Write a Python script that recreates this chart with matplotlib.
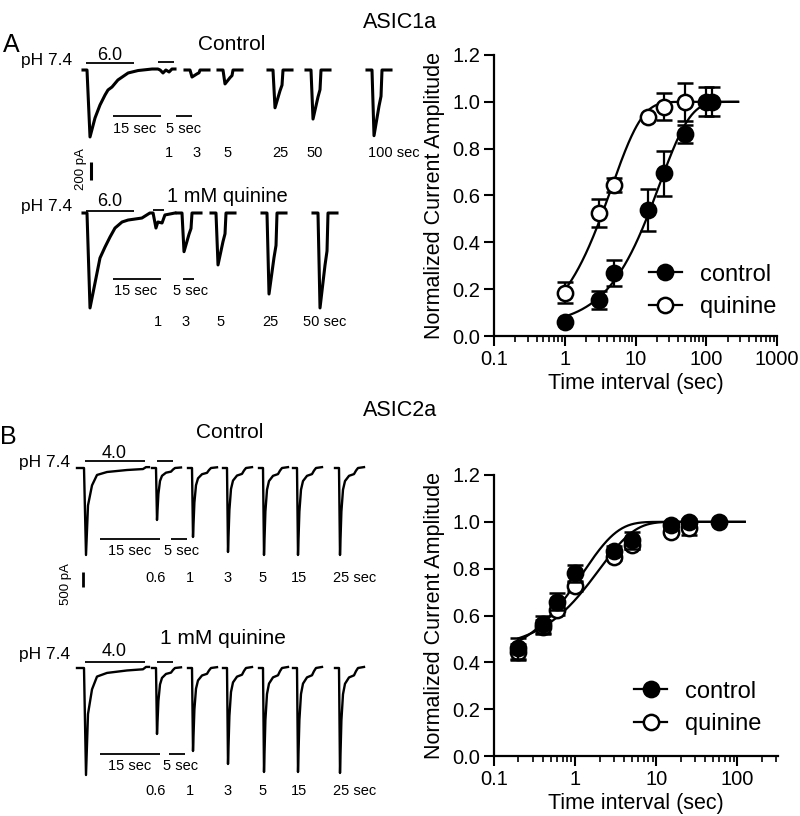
import numpy as np
import matplotlib.pyplot as plt
from matplotlib.lines import Line2D
from matplotlib.ticker import NullFormatter, LogLocator

plt.rcParams['font.family'] = ['Liberation Sans', 'DejaVu Sans']

W, H = 800, 816

# ---------------- recovery data (normalized amplitude) ----------------
a_ctrl_t = [1, 3, 5, 15, 25, 50, 100, 120]
a_ctrl_y = [0.061, 0.154, 0.268, 0.538, 0.695, 0.861, 1.0, 1.0]
a_ctrl_err = [0.0, 0.038, 0.055, 0.088, 0.095, 0.038, 0.062, 0.062]
a_quin_t = [1, 3, 5, 15, 25, 50]
a_quin_y = [0.185, 0.524, 0.645, 0.934, 0.979, 1.0]
a_quin_err = [0.045, 0.06, 0.03, 0.0, 0.057, 0.08]

b_ctrl_t = [0.2, 0.4, 0.6, 1, 3, 5, 15, 25, 60]
b_ctrl_y = [0.46, 0.562, 0.659, 0.78, 0.877, 0.922, 0.986, 1.0, 1.0]
b_ctrl_err = [0.045, 0.035, 0.037, 0.037, 0.02, 0.036, 0.01, 0.01, 0.0]
b_quin_t = [0.2, 0.4, 0.6, 1, 3, 5, 15, 25]
b_quin_y = [0.445, 0.552, 0.623, 0.726, 0.851, 0.90, 0.958, 0.972]
b_quin_err = [0.035, 0.03, 0.02, 0.02, 0.015, 0.015, 0.01, 0.028]

# ---------------- current traces (time in s, current in pA) ----------------
# ASIC1a conditioning responses (with the 1 s test response riding on the tail)
a_ctrl_cond_t = [0, 1.25, 2.19, 3.75, 5.31, 6.88, 7.81, 9.06, 10.9, 14.1, 17.2, 21.6,
                 23.4, 24.1, 25.0, 25.9, 26.9, 27.8, 28.75]
a_ctrl_cond_i = [0, 0, -744, -533, -389, -278, -222, -189, -111, -33, -6, 11,
                 11, 0, -33, 0, -22, 11, 11]
a_quin_cond_t = [0, 1.25, 2.19, 3.75, 5.31, 6.88, 8.44, 10.0, 12.2, 14.1, 18.4, 20.9,
                 21.9, 22.8, 23.4, 24.7, 25.6, 28.75]
a_quin_cond_i = [0, 0, -1055, -778, -500, -378, -267, -167, -100, -78, -56, 0,
                 0, -167, -100, -111, -22, 0]
# test response shape (fraction of peak) and peak amplitudes
a_test_t = [0, 1.56, 2.19, 3.75, 4.38, 4.69, 7.5]
a_test_f = [0, 0, -1, -0.55, -0.4, 0, 0]
a_ctrl_amp = [78, 155, 420, 545, 730]      # 3, 5, 25, 50, 100 s
a_quin_amp = [430, 577, 900, 1055]         # 3, 5, 25, 50 s

# ASIC2a
b_cond_t = [0, 1.75, 2.25, 2.75, 3.75, 5.0, 7.5, 12.5, 16.5, 17.25, 18.0]
b_cond_f = [0, 0, -1, -0.43, -0.2, -0.08, -0.046, -0.023, -0.012, 0.01, 0.01]
b_ctrl_cond_amp = 2900
b_quin_cond_amp = 3567
b_test_t = [0, 1.0, 1.25, 1.6, 2.0, 2.5, 3.5, 4.75, 5.25, 5.75, 7.25]
b_test_f = [0, 0, -1, -0.5, -0.25, -0.15, -0.09, -0.07, -0.03, 0, 0.01]
b_ctrl_amp = [1733, 2300, 2800, 2900, 2900, 2900]   # 0.6, 1, 3, 5, 15, 25 s
b_quin_amp = [2200, 2767, 3200, 3467, 3467, 3500]


def fit_recovery(t, y):
    # least squares fit of y = 1 - A*exp(-t/tau) on a grid
    t = np.asarray(t, float)
    y = np.asarray(y, float)
    amps = np.linspace(0.3, 1.1, 81)
    taus = np.logspace(-1, 2.5, 351)
    A, T = np.meshgrid(amps, taus, indexing='ij')
    pred = 1 - A[..., None] * np.exp(-t / T[..., None])
    sse = ((pred - y) ** 2).sum(axis=-1)
    i, j = np.unravel_index(np.argmin(sse), sse.shape)
    return amps[i], taus[j]


def fig_text(x, y, s, size=10, **kw):
    fig.text(x / W, 1 - y / H, s, fontsize=size, ha=kw.pop('ha', 'center'),
             va=kw.pop('va', 'center'), **kw)


def row_axes(top, bottom, base, spp, ppp):
    ax = fig.add_axes([0, 1 - bottom / H, 0.5, (bottom - top) / H])
    ax.set_xlim(0, 400 * spp)
    ax.set_ylim(-(bottom - base) * ppp, (base - top) * ppp)
    ax.axis('off')
    ax.patch.set_visible(False)
    return dict(ax=ax, base=base, spp=spp, ppp=ppp)


def hbar(row, x0, y, length, lw=1.3):
    ax = row['ax']
    yv = -(y - row['base']) * row['ppp']
    ax.plot([x0 * row['spp'], x0 * row['spp'] + length], [yv, yv], color='k',
            lw=lw, clip_on=False, solid_capstyle='butt')


def trace(row, x0, t, i, lw):
    ax = row['ax']
    ax.plot(x0 * row['spp'] + np.asarray(t), np.asarray(i), color='k', lw=lw,
            clip_on=False, solid_joinstyle='round')


fig = plt.figure(figsize=(W / 100, H / 100), dpi=100)

# ================= traces, panel A =================
spp_a, ppp_a = 0.3125, 200 / 18
ra1 = row_axes(30, 200, 70, spp_a, ppp_a)
ra2 = row_axes(180, 340, 213, spp_a, ppp_a)

trace(ra1, 83, a_ctrl_cond_t, a_ctrl_cond_i, 2.2)
for x0, amp in zip([185, 218, 268, 306, 367], a_ctrl_amp):
    trace(ra1, x0, a_test_t, amp * np.asarray(a_test_f), 2.2)
trace(ra2, 83, a_quin_cond_t, a_quin_cond_i, 2.2)
for x0, amp in zip([177, 211, 262, 313], a_quin_amp):
    trace(ra2, x0, a_test_t, amp * np.asarray(a_test_f), 2.2)

hbar(ra1, 86, 63, 15)
hbar(ra1, 158, 62, 5)
hbar(ra1, 113, 116, 15)
hbar(ra1, 176, 116, 5)
hbar(ra2, 86, 211, 15)
hbar(ra2, 153, 210, 3.5)
hbar(ra2, 113, 279, 15)
hbar(ra2, 183, 279, 3.5)
# 200 pA scale bar
ra1['ax'].plot([91 * spp_a] * 2, [-(162 - 70) * ppp_a, -(162 - 70) * ppp_a - 200],
               color='k', lw=2.2, clip_on=False, solid_capstyle='butt')
fig_text(81, 169, '200 pA', 9.5, rotation=90)

fig_text(400, 22, 'ASIC1a', 15.5)
fig_text(11, 45, 'A', 18)
fig_text(47, 60, 'pH 7.4', 12.5)
fig_text(110, 55, '6.0', 13)
fig_text(232, 44, 'Control', 15)
fig_text(135, 129, '15 sec', 10.5)
fig_text(184, 129, '5 sec', 10.5)
for x, s in zip([169, 197, 228, 280, 315, 394], ['1', '3', '5', '25', '50', '100 sec']):
    fig_text(x, 153, s, 10.5)
fig_text(47, 207, 'pH 7.4', 12.5)
fig_text(110, 202, '6.0', 13)
fig_text(227, 196, '1 mM quinine', 14.5)
fig_text(136, 291, '15 sec', 10.5)
fig_text(191, 291, '5 sec', 10.5)
for x, s in zip([158, 186, 221, 270, 325], ['1', '3', '5', '25', '50 sec']):
    fig_text(x, 322, s, 10.5)

# ================= traces, panel B =================
spp_b, ppp_b = 0.25, 500 / 15
rb1 = row_axes(420, 600, 468, spp_b, ppp_b)
rb2 = row_axes(620, 800, 668, spp_b, ppp_b)
b_starts = [152, 188, 223, 259, 293, 335]

trace(rb1, 77, b_cond_t, b_ctrl_cond_amp * np.asarray(b_cond_f), 1.7)
for x0, amp in zip(b_starts, b_ctrl_amp):
    trace(rb1, x0, b_test_t, amp * np.asarray(b_test_f), 1.7)
trace(rb2, 77, b_cond_t, b_quin_cond_amp * np.asarray(b_cond_f), 1.7)
for x0, amp in zip(b_starts, b_quin_amp):
    trace(rb2, x0, b_test_t, amp * np.asarray(b_test_f), 1.7)

hbar(rb1, 85, 461, 15)
hbar(rb1, 157, 461, 4)
hbar(rb1, 100, 539, 15)
hbar(rb1, 171, 539, 4)
hbar(rb2, 85, 662, 15)
hbar(rb2, 157, 662, 4)
hbar(rb2, 100, 754, 15)
hbar(rb2, 169, 754, 4)
rb1['ax'].plot([83 * spp_b] * 2, [-(572 - 468) * ppp_b, -(572 - 468) * ppp_b - 500],
               color='k', lw=2.0, clip_on=False, solid_capstyle='butt')
fig_text(66, 584, '500 pA', 9.5, rotation=90)

fig_text(400, 411, 'ASIC2a', 15.5)
fig_text(8, 437, 'B', 18)
fig_text(230, 433, 'Control', 15)
fig_text(45, 462, 'pH 7.4', 12.5)
fig_text(114, 453, '4.0', 13)
fig_text(130, 551, '15 sec', 10.5)
fig_text(182, 551, '5 sec', 10.5)
fig_text(223, 638, '1 mM quinine', 15)
fig_text(45, 655, 'pH 7.4', 12.5)
fig_text(114, 652, '4.0', 13)
fig_text(130, 766, '15 sec', 10.5)
fig_text(181, 766, '5 sec', 10.5)
b_lab_x = [156, 190, 228, 263, 299, 355]
b_lab_s = ['0.6', '1', '3', '5', '15', '25 sec']
for x, s in zip(b_lab_x, b_lab_s):
    fig_text(x, 578, s, 10.5)
    fig_text(x, 791, s, 10.5)


# ================= recovery plots =================
def recovery_panel(ax, ctrl, quin, fit_lo, fit_hi, xmax, xticks, legend_anchor):
    for (t, y, e), filled, z in ((quin, False, 3), (ctrl, True, 4)):
        amp, tau = fit_recovery(t, y)
        tt = np.logspace(np.log10(fit_lo), np.log10(fit_hi), 300)
        ax.plot(tt, 1 - amp * np.exp(-tt / tau), color='k', lw=1.6, zorder=2)
        ax.errorbar(t, y, yerr=e, fmt='o', ms=11, mfc='k' if filled else 'white',
                    mec='k', mew=1.8, ecolor='k', elinewidth=1.6, capsize=6,
                    capthick=1.6, zorder=z, clip_on=False)
    ax.set_xscale('log')
    ax.set_xlim(0.1, xmax)
    ax.set_ylim(0, 1.2)
    ax.set_xticks(xticks)
    ax.set_xticklabels([f'{v:g}' for v in xticks])
    ax.xaxis.set_minor_locator(LogLocator(base=10, subs=np.arange(2, 10)))
    ax.xaxis.set_minor_formatter(NullFormatter())
    ax.set_yticks(np.arange(0, 1.21, 0.2))
    ax.set_yticklabels([f'{v:.1f}' for v in np.arange(0, 1.21, 0.2)])
    for side in ('top', 'right'):
        ax.spines[side].set_visible(False)
    for side in ('left', 'bottom'):
        ax.spines[side].set_linewidth(1.6)
    ax.tick_params(which='major', length=7, width=1.5, labelsize=14.5, direction='out', pad=3)
    ax.tick_params(which='minor', length=4, width=1.2, direction='out')
    ax.set_xlabel('Time interval (sec)', fontsize=15.5, labelpad=3)
    ax.set_ylabel('Normalized Current Amplitude', fontsize=15.5, labelpad=5)
    handles = [Line2D([], [], color='k', lw=1.6, marker='o', ms=11, mfc='k', mec='k', mew=1.8),
               Line2D([], [], color='k', lw=1.6, marker='o', ms=11, mfc='white', mec='k', mew=1.8)]
    ax.legend(handles, ['control', 'quinine'], loc='lower right', bbox_to_anchor=legend_anchor,
              frameon=False, fontsize=17, handlelength=1.4, handletextpad=0.75,
              labelspacing=0.45, borderaxespad=0)


ax_a = fig.add_axes([494 / W, 1 - 336 / H, 283 / W, 281 / H])
recovery_panel(ax_a, (a_ctrl_t, a_ctrl_y, a_ctrl_err), (a_quin_t, a_quin_y, a_quin_err),
               1, 282, 1000, [0.1, 1, 10, 100, 1000], (1.03, 0.03))

ax_b = fig.add_axes([494 / W, 1 - 756 / H, 284 / W, 281 / H])
recovery_panel(ax_b, (b_ctrl_t, b_ctrl_y, b_ctrl_err), (b_quin_t, b_quin_y, b_quin_err),
               0.2, 123, 316, [0.1, 1, 10, 100], (0.975, 0.04))

fig.savefig('out.png', dpi=100)
